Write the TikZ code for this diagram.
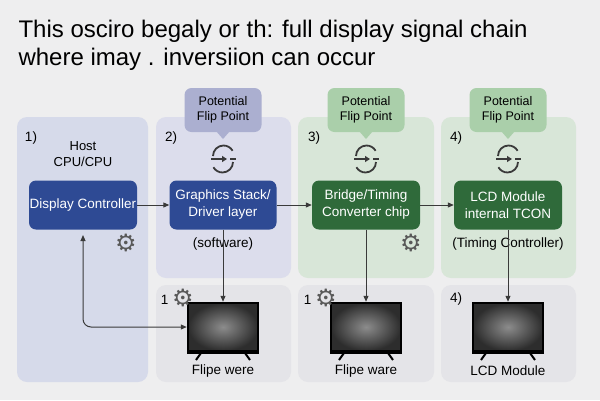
\documentclass[tikz,border=0pt]{standalone}
\usepackage{fontspec}
\setmainfont{Liberation Sans}
\newfontfamily\symf{DejaVu Sans}
\usetikzlibrary{arrows.meta}
\definecolor{bg}{HTML}{EEEEEF}
\definecolor{pblue}{HTML}{D6DAEA}
\definecolor{pblue2}{HTML}{DCDDEC}
\definecolor{pgreen}{HTML}{D8E6D8}
\definecolor{pgray}{HTML}{E4E4E8}
\definecolor{cblue}{HTML}{ABAFD0}
\definecolor{cgreen}{HTML}{AACFAA}
\definecolor{bblue}{HTML}{2E4A94}
\definecolor{bgreen}{HTML}{2F6A3A}
\definecolor{ink}{HTML}{3A3A3A}
\begin{document}
\begin{tikzpicture}[x=1pt,y=-1pt,
  panel/.style={rounded corners=10pt},
  box/.style={rounded corners=7pt,text=white,align=center,font=\fontsize{13.5}{17}\selectfont,minimum height=49pt,inner sep=0pt},
  call/.style={rounded corners=7pt,align=center,font=\fontsize{12.5}{15}\selectfont,minimum width=77pt,minimum height=44pt,inner sep=0pt},
  lab/.style={font=\fontsize{13.5}{16}\selectfont,text=black},
  arr/.style={draw=ink,line width=1pt,-{Triangle[length=6pt,width=5pt]}},
  gear/.style={font=\symf\fontsize{24}{24}\selectfont,text=gray!70!black,inner sep=0pt}]
\fill[bg] (0,0) rectangle (600,400);
\useasboundingbox (0,0) rectangle (600,400);
% title
\node[anchor=west,align=left,font=\fontsize{24}{28}\selectfont] (title) at (15,45) {This osciro begaly or th: full display signal chain\\where imay . inversiion can occur};
% panels
\fill[pblue,panel] (17,117) rectangle (148,382);
\fill[pblue2,panel] (156,117) rectangle (291,278);
\fill[pgreen,panel] (298,117) rectangle (434,278);
\fill[pgreen,panel] (441,117) rectangle (576,278);
\fill[pgray,panel] (156,285) rectangle (291,382);
\fill[pgray,panel] (298,285) rectangle (434,382);
\fill[pgray,panel] (441,285) rectangle (576,382);
% callouts
\foreach \n/\x/\c in {c2/223/cblue,c3/366/cgreen,c4/508/cgreen}{
  \fill[\c] (\x-7,131) -- (\x,139) -- (\x+7,131) -- cycle;
  \node[call,fill=\c] (\n) at (\x,110) {Potential\\Flip Point};
}
% sync icons
\foreach \x in {223,366,508}{
  \begin{scope}[shift={(\x,159)},draw=ink,line width=1.8pt]
    \draw (-10,-3) arc[start angle=-180,end angle=-30,radius=10.5];
    \draw (10,3) arc[start angle=0,end angle=150,radius=10.5];
    \draw[line width=1.4pt,-{Triangle[length=5pt,width=6pt]}] (-12,0) -- (4,0);
    \draw[line width=1.4pt] (7,0) -- (13,0);
  \end{scope}
}
% numbers
\node[lab] (n1) at (31,138) {1)};
\node[lab] (n2) at (171,138) {2)};
\node[lab] (n3) at (314,138) {3)};
\node[lab] (n4) at (456,138) {4)};
\node[lab,align=center,font=\fontsize{13}{16}\selectfont] (host) at (83,154) {Host\\CPU/CPU};
% boxes
\node[box,fill=bblue,minimum width=108pt] (dc) at (83,205) {Display Controller};
\node[box,fill=bblue,minimum width=107pt] (gs) at (223,205) {Graphics Stack/\\Driver layer};
\node[box,fill=bgreen,minimum width=108pt] (br) at (366,205) {Bridge/Timing\\Converter chip};
\node[box,fill=bgreen,minimum width=108pt] (lcd) at (508,205) {LCD Module\\internal TCON};
\draw[arr] (dc) -- (gs);
\draw[arr] (gs) -- (br);
\draw[arr] (br) -- (lcd);
\node[lab] (sw) at (223,244) {(software)};
\node[lab] (tc) at (508,244) {(Timing Controller)};
\node[gear] (g1) at (126,243) {⚙};
\node[gear] (g3) at (411,243) {⚙};
% monitors
\foreach \n/\x in {m2/223,m3/366,m4/508}{
  \draw[line width=2pt] (\x-22,353) -- (\x-27,360) (\x+22,353) -- (\x+27,360);
  \node[draw=black,line width=2.5pt,minimum width=70pt,minimum height=48pt,inner sep=0pt,
        inner color=gray!90,outer color=gray!35!black] (\n) at (\x,327) {};
  \fill[black] (\x-36,350) rectangle (\x+36,354);
}
\node[lab] (l2) at (223,371) {Flipe were};
\node[lab] (l3) at (366,371) {Flipe ware};
\node[lab] (l4) at (508,371) {LCD Module};
\node[lab,anchor=east] (k2) at (172,300) {1};
\node[gear,anchor=west] (g2) at (172,298) {⚙};
\node[lab,anchor=east] (k3) at (315,300) {1};
\node[gear,anchor=west] (g3b) at (315,298) {⚙};
\node[lab] (k4) at (456,299) {4)};
% vertical arrows
\draw[arr] (gs.south) -- (m2.north);
\draw[arr] (br.south) -- (m3.north);
\draw[arr] (lcd.south) -- (m4.north);
\draw[draw=ink,line width=1pt,{Triangle[length=6pt,width=5pt]}-{Triangle[length=6pt,width=5pt]},rounded corners=8pt] (83,235) |- (m2.west);
\end{tikzpicture}
\end{document}
